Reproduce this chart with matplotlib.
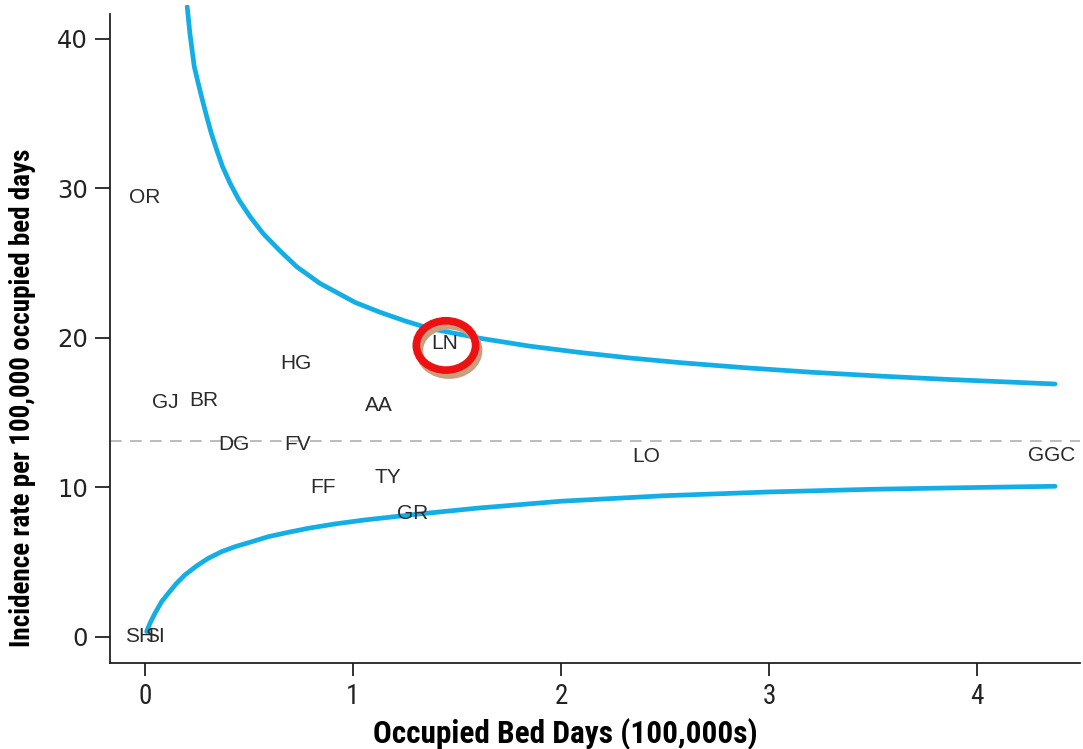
import matplotlib
matplotlib.use("Agg")
import matplotlib.pyplot as plt
from matplotlib import font_manager
from matplotlib.patches import Ellipse
import matplotlib.transforms as mtransforms

def pick(names):
    for n in names:
        try:
            font_manager.findfont(n, fallback_to_default=False)
            return n
        except Exception:
            pass
    return "DejaVu Sans"

NARROW = pick(["Liberation Sans Narrow", "Roboto Condensed", "Liberation Sans"])
WIDE = pick(["Liberation Sans", "DejaVu Sans"])

# --- data ---
sites = ["OR", "HG", "GJ", "BR", "DG", "FV", "AA", "LN", "FF", "TY", "GR", "LO", "GGC", "SH", "SI"]
bed_days = [0.0, 0.726, 0.096, 0.284, 0.428, 0.736, 1.125, 1.442, 0.856, 1.168, 1.288, 2.409, 4.36, -0.026, 0.05]
rates = [29.4, 18.3, 15.7, 15.8, 12.85, 12.9, 15.45, 19.6, 9.97, 10.7, 8.23, 12.1, 12.17, 0.0, 0.0]

mean_rate = 13.1

upper_x = [0.203, 0.216, 0.237, 0.256, 0.276, 0.297, 0.319, 0.345, 0.373, 0.409,
           0.452, 0.505, 0.569, 0.649, 0.729, 0.84, 1.010, 1.130,
           1.25, 1.370, 1.611, 1.851, 2.091, 2.332, 2.572, 2.893, 3.213, 3.534,
           3.854, 4.375]
upper_y = [42.16, 40.38, 38.15, 37.04, 35.92, 34.80, 33.69, 32.58, 31.46, 30.35,
           29.23, 28.12, 26.97, 25.83, 24.77, 23.66, 22.38, 21.72,
           21.14, 20.63, 19.98, 19.45, 19.03, 18.66, 18.35, 18.0, 17.70, 17.45,
           17.23, 16.92]

lower_x = [0.008, 0.024, 0.048, 0.080, 0.112, 0.152, 0.192, 0.248, 0.304, 0.369,
           0.433, 0.513, 0.593, 0.689, 0.785, 0.913, 1.058, 1.3, 1.6, 2.0,
           2.5, 3.0, 3.5, 4.0, 4.375]
lower_y = [0.36, 0.91, 1.58, 2.36, 2.92, 3.59, 4.15, 4.75, 5.26, 5.71,
           6.04, 6.37, 6.71, 7.0, 7.27, 7.56, 7.83, 8.2, 8.62, 9.08,
           9.45, 9.7, 9.88, 10.0, 10.08]

highlight_site = "LN"

x_ticks = [0, 1, 2, 3, 4]
y_ticks = [0, 10, 20, 30, 40]

# --- figure ---
fig = plt.figure(figsize=(10.83, 7.49), dpi=100)
W, H = 1083, 749
left_px, right_px, bottom_px, top_px = 110, 1080, 663, 5
ax = fig.add_axes([left_px / W, 1 - bottom_px / H, (right_px - left_px) / W, (bottom_px - top_px) / H])

xmin, xmax = -0.168, 4.495
ymin, ymax = -1.74, 42.27
ax.set_xlim(xmin, xmax)
ax.set_ylim(ymin, ymax)

blue = "#13aee6"
ax.plot(upper_x, upper_y, color=blue, lw=3.4, solid_capstyle="round",
        solid_joinstyle="round", zorder=3)
ax.plot(lower_x, lower_y, color=blue, lw=3.4, solid_capstyle="round",
        solid_joinstyle="round", zorder=3)
ax.axhline(mean_rate, color="#b0b0b0", lw=1.2, dashes=(7, 5), zorder=2)

for s, x, y in zip(sites, bed_days, rates):
    ax.text(x, y, s, ha="center", va="center", fontsize=15, color="#2a2a2a",
            family=WIDE, zorder=5)

# highlight circle around LN
i = sites.index(highlight_site)
cx, cy = bed_days[i] + 0.005, rates[i] - 0.1
shadow_tr = mtransforms.offset_copy(ax.transData, fig=fig, x=3, y=-5, units="dots")
ax.add_patch(Ellipse((cx, cy), 0.285, 3.3, fill=False, edgecolor="#c9a07f", lw=5.5,
                     transform=shadow_tr, zorder=4))
ax.add_patch(Ellipse((cx, cy), 0.285, 3.3, fill=False, edgecolor="#ee1111", lw=5.5, zorder=4.5))

for sp in ["top", "right"]:
    ax.spines[sp].set_visible(False)
ax.spines["left"].set_bounds(ymin, 41.67)
for sp in ["left", "bottom"]:
    ax.spines[sp].set_linewidth(1.3)
    ax.spines[sp].set_color("#222222")

ax.set_xticks(x_ticks)
ax.set_yticks(y_ticks)
ax.tick_params(axis="both", direction="out", width=1.3, color="#222222")
ax.tick_params(axis="y", length=11, pad=5)
ax.tick_params(axis="x", length=9.5, pad=5)
for lab in ax.get_yticklabels():
    lab.set_fontsize(17.5)
    lab.set_family("DejaVu Sans")
    lab.set_color("#222222")
for lab in ax.get_xticklabels():
    lab.set_fontsize(19.5)
    lab.set_family(NARROW)
    lab.set_color("#222222")

ax.set_xlabel("Occupied Bed Days (100,000s)", fontsize=22.5, fontweight="bold",
              family=NARROW)
ax.xaxis.set_label_coords(0.469, -0.084)
ax.set_ylabel("Incidence rate per 100,000 occupied bed days", fontsize=19.5,
              fontweight="bold", family=NARROW)
ax.yaxis.set_label_coords(-0.0907, 0.403)
ax.yaxis.label.set_va("center")

fig.savefig("out.png", dpi=100)
